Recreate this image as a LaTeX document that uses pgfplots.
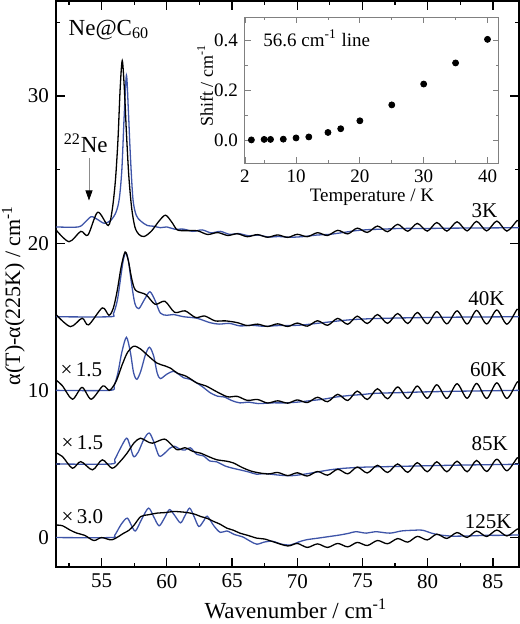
\documentclass[border=0pt]{standalone}
\usepackage{fontspec}
\setmainfont{Liberation Serif}
\usepackage{pgfplots}
\pgfplotsset{compat=1.18}
\usetikzlibrary{arrows.meta}
\definecolor{specblue}{RGB}{62,84,168}

\begin{document}
\begin{tikzpicture}
\begin{axis}[name=main, scale only axis, width=231.5pt, height=283pt,
  xmin=51.5, xmax=87, ymin=-2, ymax=36.45,
  xtick={55,60,...,85}, minor xtick={52.5,57.5,...,82.5},
  ytick={0,10,20,30}, minor ytick={5,15,25,35},
  tick align=inside, major tick length=4.5pt, minor tick length=2pt,
  axis line style={line width=0.75pt}, every tick/.style={line width=0.6pt, black},
  /pgf/number format/assume math mode=true,
  tick label style={font=\fontsize{10.5}{12}\selectfont},
  xlabel={Wavenumber / cm\textsuperscript{-1}},
  ylabel={α(T)-α(225K) / cm\textsuperscript{-1}},
  every axis x label/.style={at={(axis description cs:0.518,-0.074)}, anchor=center, font=\fontsize{11.5}{13}\selectfont},
  every axis y label/.style={at={(axis description cs:-0.092,0.48)}, anchor=center, rotate=90, font=\fontsize{11}{13}\selectfont},
  every axis plot/.append style={line width=0.65pt, smooth, tension=0.5},
]
% 3K
\addplot[specblue] coordinates {(51.5,21.1) (53.2,21.1) (53.7,21.4) (54.2,21.8) (54.7,21.6) (55.2,21.35) (55.7,21.55) (56.1,22.1) (56.35,23.0) (56.55,25.0) (56.72,28.5) (56.9,31.4) (57.05,29.0) (57.2,26.0) (57.4,23.0) (57.65,21.9) (58.0,21.5) (58.5,21.2) (59.0,21.15) (59.5,21.05) (60.0,21.1) (60.6,20.95) (61.3,20.95) (62.0,20.8) (62.7,20.9) (63.4,20.7) (64.1,20.8) (64.8,20.6) (65.5,20.65) (66.3,20.5) (67.0,20.55) (67.8,20.42) (68.6,20.45) (69.5,20.4) (70.5,20.45) (71.5,20.55) (72.5,20.6) (73.5,20.72) (74.5,20.85) (75.5,20.92) (76.5,20.95) (78,21.0) (80,21.0) (82,21.02) (84,21.03) (87,21.05)};
\addplot[black] coordinates {(51.5,20.9) (52.5,20.1) (53.4,20.8) (53.95,20.55) (54.7,22.1) (55.5,21.2) (55.8,22.2) (56.05,24.2) (56.25,27.0) (56.42,30.5) (56.58,32.4) (56.74,30.5) (56.9,27.5) (57.08,24.6) (57.3,22.4) (57.55,21.1) (57.85,20.6) (58.25,20.45) (58.8,20.8) (59.4,21.5) (59.9,21.9) (60.4,21.4) (60.8,20.9) (61.5,20.85) (62.35,20.84) (63.12,20.59) (63.9,20.72) (64.67,20.52) (65.4,20.64) (66.17,20.44) (66.95,20.58) (67.72,20.4) (68.5,20.56) (69.27,20.39) (70.0,20.6) (70.77,20.44) (71.55,20.71) (72.32,20.52) (73.1,20.87) (73.87,20.63) (74.6,21.02) (75.37,20.73) (76.15,21.16) (76.92,20.78) (77.7,21.28) (78.47,20.81) (79.2,21.34) (79.97,20.82) (80.7,21.4) (81.47,20.82) (82.25,21.45) (83.02,20.83) (83.75,21.48) (84.52,20.83) (85.3,21.5) (86.07,20.82) (86.85,21.53) (87,21.45)};
% 40K
\addplot[specblue] coordinates {(51.5,15.0) (55.6,15.0) (55.9,15.2) (56.2,16.1) (56.45,17.6) (56.65,18.8) (56.85,19.35) (57.05,18.8) (57.3,17.2) (57.55,15.9) (57.85,15.55) (58.3,16.2) (58.7,16.7) (59.1,16.1) (59.5,15.25) (60.0,15.1) (60.5,15.15) (61.3,15.0) (62.3,14.9) (63.3,14.6) (64.0,14.5) (64.8,14.55) (65.6,14.38) (66.5,14.42) (67.5,14.35) (68.5,14.4) (69.5,14.4) (70.5,14.45) (71.5,14.55) (72.5,14.65) (73.5,14.75) (74.5,14.82) (76,14.88) (78,14.92) (80,14.95) (83,14.98) (87,15.0)};
\addplot[black] coordinates {(51.5,15.15) (52.6,14.33) (53.5,14.9) (54.0,14.45) (55.05,15.6) (55.56,15.1) (55.9,15.6) (56.2,16.8) (56.5,18.4) (56.8,19.4) (57.05,18.8) (57.3,17.6) (57.6,16.8) (58.4,16.5) (59.1,15.85) (59.85,16.05) (60.6,15.3) (61.4,15.4) (62.2,14.95) (62.9,15.05) (63.7,14.72) (64.5,14.72) (65.4,14.6) (66.17,14.4) (66.95,14.5) (67.72,14.34) (68.5,14.52) (69.27,14.34) (70.0,14.57) (70.77,14.36) (71.55,14.73) (72.32,14.42) (73.1,14.89) (73.87,14.49) (74.6,15.04) (75.37,14.54) (76.15,15.15) (76.92,14.55) (77.7,15.22) (78.47,14.54) (79.2,15.29) (79.97,14.53) (80.7,15.35) (81.47,14.52) (82.25,15.4) (83.02,14.51) (83.75,15.43) (84.52,14.51) (85.3,15.46) (86.07,14.5) (86.85,15.5) (87,15.4)};
% 60K
\addplot[specblue] coordinates {(51.5,10.0) (55.6,10.0) (55.95,10.3) (56.25,11.2) (56.55,12.6) (56.9,13.6) (57.2,12.6) (57.45,11.2) (57.7,10.75) (58.0,11.3) (58.35,12.4) (58.67,12.93) (59.0,12.3) (59.25,11.2) (59.5,10.8) (60.0,11.1) (60.5,11.3) (60.9,11.1) (61.3,10.85) (61.8,10.75) (62.3,10.5) (62.8,10.2) (63.3,9.85) (63.9,9.6) (64.4,9.55) (65.0,9.3) (65.6,9.15) (66.3,9.2) (67.0,9.1) (68,9.15) (69,9.15) (70,9.2) (71,9.3) (72,9.4) (73,9.55) (74,9.65) (75,9.72) (76,9.8) (78,9.85) (80,9.9) (83,9.95) (87,10.0)};
\addplot[black] coordinates {(51.5,10.7) (52.0,10.3) (52.76,9.4) (53.5,10.2) (54.2,9.4) (55.1,10.3) (55.6,10.0) (56.1,10.6) (56.6,11.8) (57.0,12.6) (57.47,13.0) (58.0,12.8) (58.5,12.4) (59.25,11.85) (59.9,11.65) (60.3,11.5) (60.8,11.17) (61.5,10.95) (62.3,10.5) (63.0,10.3) (63.9,9.87) (64.67,9.56) (65.4,9.59) (66.17,9.32) (66.95,9.38) (67.72,9.14) (68.5,9.29) (69.27,9.13) (70.0,9.35) (70.77,9.17) (71.55,9.53) (72.32,9.23) (73.1,9.73) (73.87,9.31) (74.6,9.95) (75.37,9.38) (76.15,10.11) (76.92,9.43) (77.7,10.23) (78.47,9.45) (79.2,10.29) (79.97,9.46) (80.7,10.38) (81.47,9.45) (82.25,10.45) (83.02,9.46) (83.75,10.47) (84.52,9.45) (85.3,10.51) (86.07,9.45) (86.85,10.55) (87,10.45)};
% 85K
\addplot[specblue] coordinates {(51.5,5.0) (55.7,5.0) (56.0,5.3) (56.4,6.0) (56.9,6.75) (57.15,6.3) (57.45,5.5) (57.8,5.8) (58.25,6.7) (58.65,7.1) (59.0,6.5) (59.4,5.55) (59.8,5.7) (60.2,6.05) (60.6,6.2) (61.0,6.0) (61.4,5.95) (61.8,6.1) (62.3,5.65) (62.8,5.55) (63.3,5.2) (63.8,5.15) (64.5,4.85) (65.1,4.7) (65.6,4.6) (66.3,4.45) (66.9,4.3) (67.5,4.35) (68.5,4.25) (69.5,4.2) (70.5,4.3) (71.5,4.45) (72.5,4.6) (73.5,4.7) (75,4.78) (77,4.82) (80,4.88) (83,4.93) (87,4.98)};
\addplot[black] coordinates {(51.5,5.75) (52.0,5.5) (52.76,4.71) (53.4,5.16) (54.3,4.6) (55.05,5.28) (55.8,4.71) (56.4,5.15) (56.96,5.75) (57.5,6.45) (57.98,6.75) (58.45,6.55) (58.9,6.41) (59.8,6.69) (60.3,6.35) (60.8,5.96) (61.4,6.1) (62.0,5.85) (62.6,5.73) (63.2,5.5) (63.85,5.28) (64.5,5.2) (65.1,5.07) (65.8,4.75) (66.6,4.48) (67.72,4.32) (68.5,4.42) (69.27,4.21) (70.0,4.4) (70.77,4.18) (71.55,4.49) (72.32,4.24) (73.1,4.64) (73.87,4.33) (74.6,4.79) (75.37,4.39) (76.15,4.91) (76.92,4.42) (77.7,5.0) (78.47,4.43) (79.2,5.09) (79.97,4.47) (80.7,5.15) (81.47,4.47) (82.25,5.19) (83.02,4.47) (83.75,5.24) (84.52,4.49) (85.3,5.32) (86.07,4.54) (86.85,5.4) (87,5.38)};
% 125K
\addplot[specblue] coordinates {(51.5,0.0) (55.7,0.0) (56.0,0.15) (56.5,0.9) (56.96,1.32) (57.3,0.8) (57.6,0.45) (58.1,1.3) (58.6,2.0) (59.0,1.4) (59.4,0.8) (59.8,1.3) (60.2,1.9) (60.6,1.5) (61.05,1.0) (61.4,1.5) (61.75,2.0) (62.1,1.4) (62.45,0.75) (62.8,1.1) (63.1,1.45) (63.6,0.8) (64.1,0.35) (64.6,0.45) (65.2,0.2) (65.8,0.05) (66.4,-0.25) (66.9,-0.45) (67.5,-0.3) (68.1,-0.25) (68.8,-0.45) (69.5,-0.5) (70.1,-0.3) (70.7,-0.15) (71.5,-0.05) (72.3,0.05) (73.3,0.18) (74.0,0.3) (74.5,0.4) (75.3,0.3) (76.0,0.4) (77.1,0.3) (78.0,0.45) (79.0,0.5) (79.6,0.5) (80.3,0.3) (80.9,0.18) (81.8,0.1) (82.6,0.1) (83.5,0.12) (84.5,0.15) (85.5,0.15) (87,0.18)};
\addplot[black] coordinates {(51.5,0.85) (52.0,0.8) (52.6,0.5) (53.1,0.3) (53.7,0.15) (54.4,-0.2) (55.0,0.0) (55.8,-0.15) (56.7,0.3) (57.1,0.5) (57.5,0.86) (58.0,1.43) (58.6,1.55) (59.25,1.66) (59.9,1.7) (60.5,1.77) (61.0,1.75) (61.55,1.7) (62.1,1.6) (62.6,1.43) (63.1,1.3) (63.6,1.09) (64.1,0.9) (64.6,0.64) (65.1,0.5) (65.6,0.3) (66.2,0.15) (66.9,-0.04) (67.5,-0.1) (68.2,-0.3) (69.27,-0.57) (70.0,-0.4) (70.77,-0.67) (71.55,-0.43) (72.32,-0.67) (73.1,-0.4) (73.87,-0.63) (74.6,-0.33) (75.37,-0.54) (76.15,-0.2) (76.92,-0.42) (77.7,-0.07) (78.47,-0.31) (79.2,0.08) (79.97,-0.16) (80.7,0.23) (81.47,-0.06) (82.25,0.34) (83.02,0.01) (83.75,0.44) (84.52,0.07) (85.3,0.51) (86.07,0.11) (86.85,0.57) (87,0.55)};
% annotations
\node[font=\fontsize{11.5}{13}\selectfont] at (axis cs:55.56,34.49) {Ne@C\textsubscript{60}};
\node[font=\fontsize{11.5}{13}\selectfont] at (axis cs:53.78,26.79) {\textsuperscript{22}Ne};
\draw[black!45, line width=0.4pt, -{Triangle[black, length=5pt, width=3.5pt]}] (axis cs:54.03,25.8) -- (axis cs:54.03,22.9);
\begin{scope}[font=\fontsize{10.5}{12}\selectfont]
\node at (axis cs:84.36,22.21) {3K};
\node at (axis cs:84.5,16.2) {40K};
\node at (axis cs:84.63,11.44) {60K};
\node at (axis cs:84.76,6.41) {85K};
\node at (axis cs:84.63,1.09) {125K};
\node at (axis cs:53.45,11.39) {×\,1.5};
\node at (axis cs:53.52,6.41) {×\,1.5};
\node at (axis cs:53.52,1.43) {×\,3.0};
\end{scope}
\end{axis}
\coordinate (insetpos) at ([xshift=94.5pt,yshift=202pt]main.south west);

\begin{axis}[at={(insetpos)}, anchor=south west,
  scale only axis, width=127pt, height=73pt,
  xmin=2, xmax=41.8, ymin=-0.093, ymax=0.495,
  xtick={2,10,20,30,40}, ytick={0,0.2,0.4}, minor ytick={0.1,0.3}, minor xtick={5,15,25,35},
  axis line style={black!50, line width=0.5pt}, every tick/.style={black!50},
  tick align=inside, major tick length=3pt, minor tick length=1.5pt,
  axis background/.style={fill=white},
  /pgf/number format/assume math mode=true,
  yticklabel style={/pgf/number format/.cd, fixed, fixed zerofill, precision=1},
  tick label style={font=\fontsize{9.5}{11}\selectfont},
  xlabel={Temperature / K}, ylabel={Shift / cm\textsuperscript{-1}},
  every axis x label/.style={at={(axis description cs:0.5,-0.233)}, anchor=center, font=\fontsize{9.5}{11}\selectfont},
  every axis y label/.style={at={(axis description cs:-0.157,0.53)}, anchor=center, rotate=90, font=\fontsize{9}{11}\selectfont},
]
\addplot[only marks, mark=*, mark size=1.5pt, black] coordinates {(3,0.0) (5,0.002) (6,0.002) (8,0.003) (10,0.008) (12,0.012) (15,0.03) (17,0.045) (20,0.077) (25,0.141) (30,0.225) (35,0.31) (40,0.405)};
\node[anchor=west, font=\fontsize{9.5}{11}\selectfont] at (axis description cs:0.045,0.856) {56.6 cm\textsuperscript{-1} line};
\end{axis}
\pgfresetboundingbox
\path[use as bounding box] ([xshift=-28pt,yshift=-28.5pt]main.south west) rectangle ([xshift=0.5pt,yshift=0.5pt]main.north east);
\end{tikzpicture}
\end{document}
